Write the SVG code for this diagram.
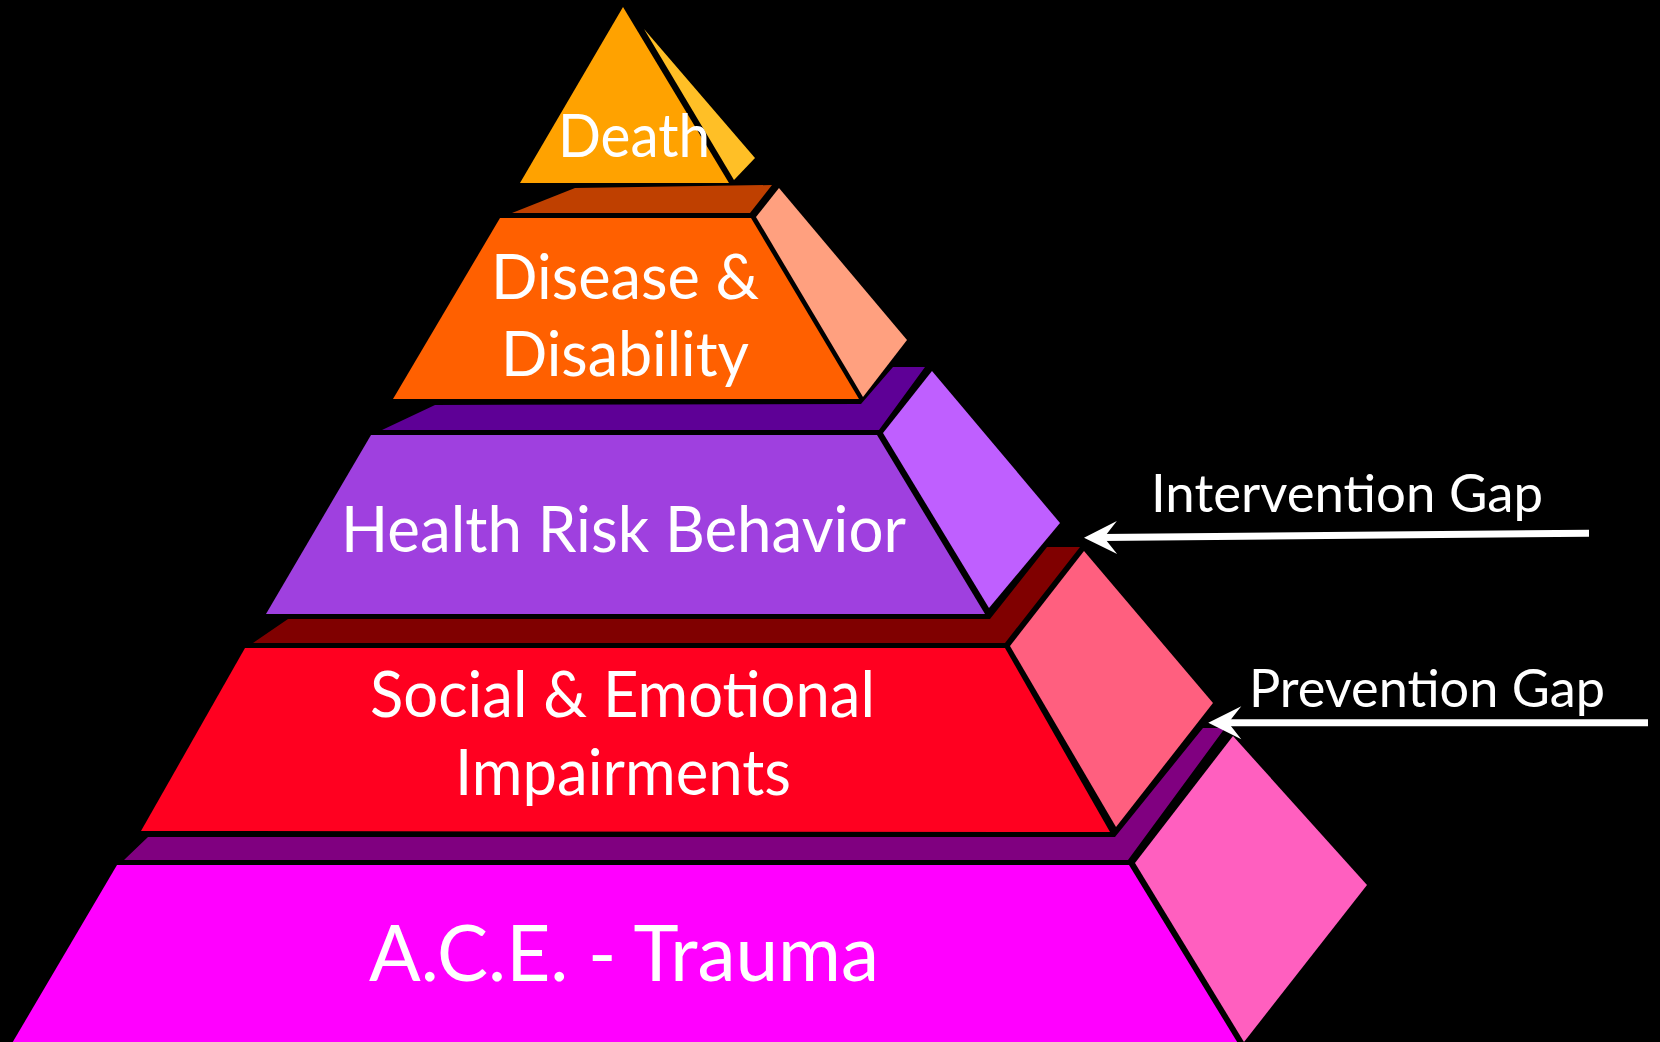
<svg xmlns="http://www.w3.org/2000/svg" width="1660" height="1042" viewBox="0 0 1660 1042">
  <defs>
    <marker id="head" viewBox="-40 -20 45 40" markerWidth="45" markerHeight="40" markerUnits="userSpaceOnUse" refX="-17" refY="0" orient="auto">
      <path d="M0,0 L-33,-16.5 L-20,0 L-33,16.5 Z" fill="#fff"/>
    </marker>
  </defs>
  <style>
    .lbl { font-family: Lato, "Gill Sans", "Liberation Sans", sans-serif; fill: #fff; }
    .arrow { stroke: #fff; fill: none; }
  </style>
  <rect x="0" y="0" width="1660" height="1042" fill="#000"/>

  <g id="layer-death">
    <polygon points="623,7 520,183 729,183" fill="#FFA200"/>
    <polygon points="644,29 755,158 734,180" fill="#FFBF26"/>
    <text class="lbl" x="558" y="157" font-size="60" textLength="152" lengthAdjust="spacingAndGlyphs">Death</text>
  </g>

  <g id="layer-disease">
    <polygon points="512,213 575,188 772,185 750,213" fill="#BF4000"/>
    <polygon points="500,218 751,218 859,399 393,399" fill="#FF6000"/>
    <polygon points="779,188 907,340 863,397 756,217" fill="#FFA07F"/>
    <text class="lbl" x="491" y="299" font-size="61" textLength="268" lengthAdjust="spacingAndGlyphs">Disease &amp;</text>
    <text class="lbl" x="501" y="376" font-size="61" textLength="248" lengthAdjust="spacingAndGlyphs">Disability</text>
  </g>

  <g id="layer-health">
    <polygon points="382,430 435,405 861,404 893,367 925,367 879,430" fill="#5E0096"/>
    <polygon points="371,435 877,435 985,614 266,614" fill="#9F40DF"/>
    <polygon points="932,371 1060,523 989,608 883,433" fill="#BF5FFF"/>
    <text class="lbl" x="341" y="552" font-size="64" textLength="565" lengthAdjust="spacingAndGlyphs">Health Risk Behavior</text>
  </g>

  <g id="layer-social">
    <polygon points="253,643 288,619 990,619 1047,547 1080,547 1005,643" fill="#800000"/>
    <polygon points="245,648 1005,648 1110,832 141,831" fill="#FF0020"/>
    <polygon points="1084,551 1213,703 1116,827 1010,646" fill="#FF5F7F"/>
    <text class="lbl" x="370" y="717" font-size="64" textLength="505" lengthAdjust="spacingAndGlyphs">Social &amp; Emotional</text>
    <text class="lbl" x="455" y="795" font-size="64" textLength="336" lengthAdjust="spacingAndGlyphs">Impairments</text>
  </g>

  <g id="layer-ace">
    <polygon points="124,860 148,837 1115,837 1203,728 1225,728 1128,860" fill="#800080"/>
    <polygon points="117,865 1129,865 1239,1045 11,1045" fill="#FF00FF"/>
    <polygon points="1233,736 1367,885 1244,1042 1135,863" fill="#FF5FBF"/>
    <text class="lbl" x="369" y="981" font-size="77" textLength="510" lengthAdjust="spacingAndGlyphs">A.C.E. - Trauma</text>
  </g>

  <g id="label-intervention">
    <text class="lbl" x="1151" y="512" font-size="53" textLength="392" lengthAdjust="spacingAndGlyphs">Intervention Gap</text>
  </g>
  <g id="label-prevention">
    <text class="lbl" x="1249" y="707" font-size="52" textLength="356" lengthAdjust="spacingAndGlyphs">Prevention Gap</text>
  </g>

  <g id="connectors">
    <line class="arrow" stroke-width="7" x1="1589" y1="533.3" x2="1101" y2="537.55" marker-end="url(#head)"/>
    <line class="arrow" stroke-width="7" x1="1648" y1="722.7" x2="1225.3" y2="722.7" marker-end="url(#head)"/>
  </g>
</svg>
